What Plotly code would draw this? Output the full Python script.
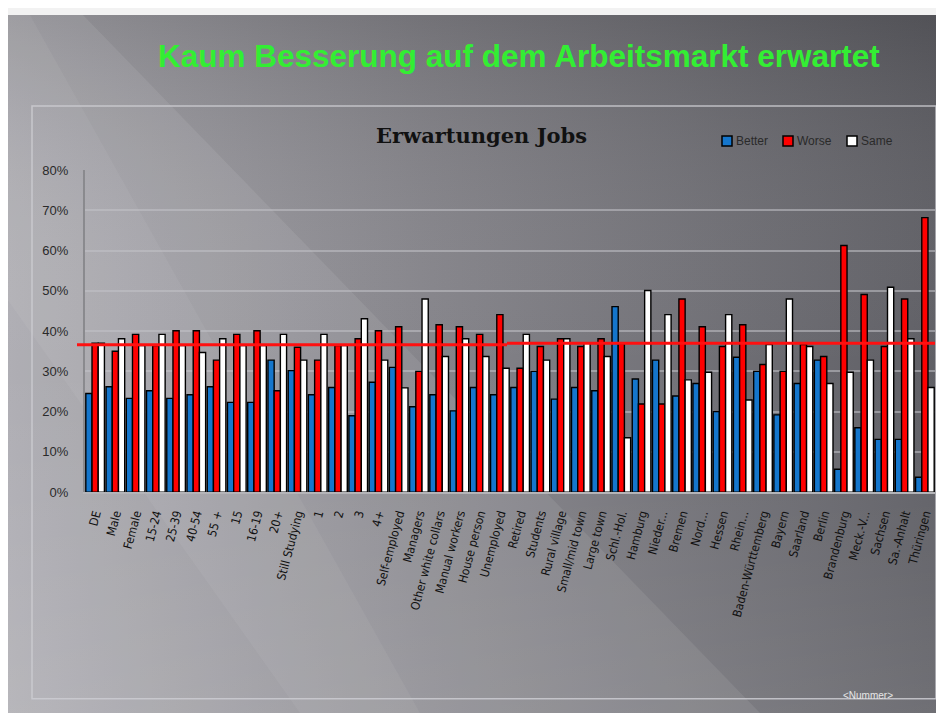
import plotly.graph_objects as go

# ---------------- data ----------------
categories = [
    "DE", "Male", "Female", "15-24", "25-39", "40-54", "55 +", "15", "16-19", "20+",
    "Still Studying", "1", "2", "3", "4+", "Self-employed", "Managers",
    "Other white collars", "Manual workers", "House person", "Unemployed", "Retired",
    "Students", "Rural village", "Small/mid town", "Large town", "Schl.-Hol.", "Hamburg",
    "Nieder...", "Bremen", "Nord...", "Hessen", "Rhein...", "Baden-Württemberg", "Bayern",
    "Saarland", "Berlin", "Brandenburg", "Meck.-V...", "Sachsen", "Sa.-Anhalt", "Thüringen",
]
better = [24.5, 26.2, 23.3, 25.2, 23.3, 24.2, 26.2, 22.3, 22.3, 32.8,
          30.2, 24.2, 26.0, 19.0, 27.3, 31.0, 21.2, 24.2, 20.2, 26.0,
          24.2, 26.0, 30.0, 23.1, 26.0, 25.2, 46.1, 28.1, 32.8, 23.9,
          27.0, 20.0, 33.5, 30.0, 19.2, 27.0, 32.8, 5.7, 16.0, 13.1,
          13.1, 3.7]
worse = [37.0, 35.0, 39.2, 36.4, 40.1, 40.1, 32.8, 39.2, 40.1, 25.2,
         36.0, 32.8, 36.4, 38.1, 40.1, 41.1, 30.0, 41.6, 41.1, 39.2,
         44.1, 30.8, 36.2, 38.1, 36.2, 38.1, 36.9, 21.9, 21.9, 48.0,
         41.1, 36.2, 41.6, 31.7, 30.0, 36.7, 33.7, 61.3, 49.1, 36.2,
         48.0, 68.2]
same = [37.0, 38.1, 36.4, 39.2, 36.4, 34.7, 38.1, 36.4, 36.4, 39.2,
        32.8, 39.2, 36.4, 43.1, 32.8, 25.9, 48.0, 33.7, 38.1, 33.7,
        30.8, 39.2, 32.8, 38.1, 37.0, 33.7, 13.5, 50.1, 44.1, 27.9,
        29.8, 44.1, 22.9, 36.7, 48.0, 36.2, 27.0, 29.8, 32.8, 50.9,
        38.1, 26.0]
ref_line_left = 36.6
ref_line_right = 37.0
y_ticks = [0, 10, 20, 30, 40, 50, 60, 70, 80]
y_tick_labels = [f"{v}%" for v in y_ticks]
series_names = ["Better", "Worse", "Same"]
series_colors = ["#1576cc", "#ff0000", "#ffffff"]

W, H = 944, 713
# observed placement of the figure in the screenshot
OFFX = 8
OFFY = 15.3
SY = 0.976


def px(x):
    return (x - OFFX) / W


def py(y):
    return 1 - (y - OFFY) / (SY * H)


fig = go.Figure()

# ---------- background (slide) on full-figure axes x/y (screenshot pixels) ----------
X0, X1 = OFFX, OFFX + W
Y0, Y1 = OFFY, OFFY + SY * H
fig.add_trace(go.Scatter(
    x=[X0, X1, X1, X0, X0], y=[Y0, Y0, Y1, Y1, Y0], mode="lines", line=dict(width=0),
    fill="toself",
    fillgradient=dict(type="horizontal",
                      colorscale=[[0, "#a9a8ae"], [0.45, "#85848a"], [1, "#5e5e64"]]),
    hoverinfo="skip", showlegend=False, xaxis="x", yaxis="y"))
fig.add_trace(go.Scatter(
    x=[X0, X1, X1, X0, X0], y=[Y0, Y0, Y1, Y1, Y0], mode="lines", line=dict(width=0),
    fill="toself",
    fillgradient=dict(type="vertical",
                      colorscale=[[0, "rgba(255,255,255,0.10)"], [0.5, "rgba(255,255,255,0.0)"],
                                  [1, "rgba(0,0,0,0.14)"]]),
    hoverinfo="skip", showlegend=False, xaxis="x", yaxis="y"))
fig.add_trace(go.Scatter(
    x=[X0, 83, 760, X0, X0], y=[Y0, Y0, Y1, Y1, Y0], mode="lines",
    line=dict(width=0), fill="toself", fillcolor="rgba(255,255,255,0.08)",
    hoverinfo="skip", showlegend=False, xaxis="x", yaxis="y"))
fig.add_trace(go.Scatter(
    x=[X0, 30, 420, 300, X0, X0], y=[Y0, Y0, Y1, Y1, 300, Y0], mode="lines",
    line=dict(width=0), fill="toself", fillcolor="rgba(255,255,255,0.05)",
    hoverinfo="skip", showlegend=False, xaxis="x", yaxis="y"))

# ---------- bars ----------
for name, vals, col in zip(series_names, [better, worse, same], series_colors):
    fig.add_trace(go.Bar(
        x=categories, y=vals, name=name, xaxis="x2", yaxis="y2",
        marker=dict(color=col, line=dict(color="#000000", width=1.4)),
        showlegend=False))

fig.update_layout(
    width=W, height=H,
    margin=dict(l=0, r=0, t=0, b=0),
    paper_bgcolor="#f2f2f2",
    plot_bgcolor="rgba(0,0,0,0)",
    barmode="group", bargap=0.08, bargroupgap=0.0,
    xaxis=dict(domain=[0, 1], range=[X0, X1], visible=False, fixedrange=True),
    yaxis=dict(domain=[0, 1], range=[Y1, Y0], visible=False, fixedrange=True),
    xaxis2=dict(domain=[px(85), px(935)], anchor="y2", type="category",
                showgrid=False, showline=True, linecolor="#b4b4b8", linewidth=2,
                tickangle=-75, ticks="", ticklabelstandoff=8,
                tickfont=dict(family="DejaVu Sans Condensed", size=12, color="#111111")),
    yaxis2=dict(domain=[py(491), py(170)], anchor="x2", range=[0, 80],
                tickmode="array", tickvals=y_ticks, ticktext=y_tick_labels,
                showgrid=True, gridcolor="rgba(195,195,200,0.55)", gridwidth=2,
                zeroline=False, showline=True, linecolor="#8a8a8e", linewidth=2,
                ticks="", ticklabelstandoff=12,
                tickfont=dict(family="Liberation Sans", size=13, color="#2a2a2a")),
    showlegend=False,
)

shapes = []
# chart frame
shapes.append(dict(type="rect", xref="paper", yref="paper",
                   x0=px(32), x1=px(936), y0=py(697), y1=py(106),
                   line=dict(color="rgba(205,205,210,0.85)", width=1.5), layer="above"))
# red reference line (two segments with a small step), extends left of the axis
shapes.append(dict(type="line", xref="paper", yref="y2", x0=px(77), x1=px(507),
                   y0=ref_line_left, y1=ref_line_left,
                   line=dict(color="#ff1010", width=3), layer="above"))
shapes.append(dict(type="line", xref="paper", yref="y2", x0=px(507), x1=px(935),
                   y0=ref_line_right, y1=ref_line_right,
                   line=dict(color="#ff1010", width=3), layer="above"))

annotations = []
# legend (manual)
leg_x = [722, 783, 847]
for name, col, lx in zip(series_names, series_colors, leg_x):
    shapes.append(dict(type="rect", xref="paper", yref="paper",
                       x0=px(lx), x1=px(lx + 10), y0=py(146), y1=py(136),
                       fillcolor=col, line=dict(color="#000000", width=1.5), layer="above"))
    annotations.append(dict(text=name, xref="paper", yref="paper",
                            x=px(lx + 12), y=py(141), xanchor="left", yanchor="middle",
                            showarrow=False,
                            font=dict(family="Liberation Sans", size=12, color="#2a2a2a")))

# slide title
annotations.append(dict(text="<b>Kaum Besserung auf dem Arbeitsmarkt erwartet</b>",
                        xref="paper", yref="paper", x=px(519), y=py(56),
                        xanchor="center", yanchor="middle", showarrow=False,
                        font=dict(family="Liberation Sans", size=31.5, color="#33ee33")))
# chart title
annotations.append(dict(text="<b>Erwartungen Jobs</b>",
                        xref="paper", yref="paper", x=px(481), y=py(135),
                        xanchor="center", yanchor="middle", showarrow=False,
                        font=dict(family="DejaVu Serif", size=21, color="#111111")))
# footer placeholder
annotations.append(dict(text="&lt;Nummer&gt;", xref="paper", yref="paper",
                        x=px(868), y=py(694), xanchor="center", yanchor="middle",
                        showarrow=False,
                        font=dict(family="Liberation Sans", size=10, color="#e6e6e6")))

fig.update_layout(shapes=shapes, annotations=annotations)

fig.write_html("out.html")
